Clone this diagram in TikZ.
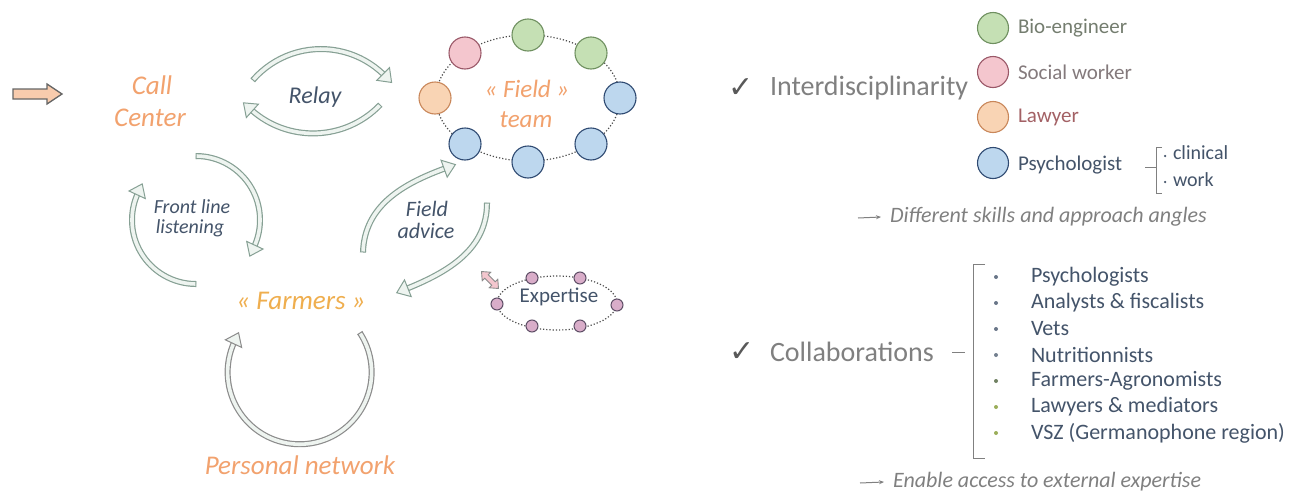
\documentclass[tikz,border=0pt]{standalone}
\usepackage{fontspec}
\setmainfont{Carlito}
\newfontfamily\symfont{DejaVu Sans}
\usetikzlibrary{decorations.markings,arrows.meta}
\definecolor{arrgray}{HTML}{8C8C8C}
\definecolor{arrgreen}{HTML}{86A094}
\definecolor{arrfill}{HTML}{EEF4F0}
\definecolor{arrorange}{HTML}{F8CBAD}
\definecolor{txtorange}{HTML}{F2A26E}
\definecolor{farmorange}{HTML}{EFAE4E}
\definecolor{navy}{HTML}{44546A}
\definecolor{graytxt}{HTML}{808080}
\definecolor{grnfill}{HTML}{C5E0B4}
\definecolor{grndraw}{HTML}{6F9060}
\definecolor{pnkfill}{HTML}{F4C6CE}
\definecolor{pnkdraw}{HTML}{9A5868}
\definecolor{orgfill}{HTML}{F9D4B4}
\definecolor{orgdraw}{HTML}{C9875A}
\definecolor{blufill}{HTML}{BDD7EE}
\definecolor{bludraw}{HTML}{2F4A72}
\definecolor{expfill}{HTML}{D9ADC9}
\definecolor{expdraw}{HTML}{5E4E66}
\definecolor{olive}{HTML}{9BAE5A}
\tikzset{
  blk/.style={draw=#1, line width=6pt,
    postaction={draw=arrfill, line width=3.6pt},
    postaction={decorate, decoration={markings,
      mark=at position 0.0001 with {\draw[draw=#1, line width=1pt] (0,3) -- (0,-3);},
      mark=at position 0.9999 with {\filldraw[draw=#1, fill=arrfill, line width=1pt] (10,0) -- (-2,9) -- (-2,-9) -- cycle;}}}},
  orng/.style={text=txtorange, font=\fontsize{27}{30}\selectfont\itshape},
  navit/.style={text=navy, font=\fontsize{#1}{#1}\selectfont\itshape},
  tc/.style={circle, minimum size=32pt, line width=1.1pt},
  ec/.style={circle, minimum size=12pt, line width=1pt, fill=expfill, draw=expdraw},
  lc/.style={circle, minimum size=31pt, line width=1.1pt},
  leglbl/.style={anchor=west, font=\fontsize{21}{21}\selectfont},
  item/.style={anchor=west, text=navy, font=\fontsize{22}{22}\selectfont},
  bul/.style={circle, minimum size=4pt, fill=#1},
  bigtxt/.style={anchor=west, text=graytxt, font=\fontsize{28}{28}\selectfont},
  chk/.style={text=black!65, font=\symfont\fontsize{30}{30}\selectfont},
  concl/.style={anchor=west, text=graytxt, font=\fontsize{22}{22}\selectfont\itshape},
  thinarr/.style={draw=graytxt, line width=1pt, -{Stealth[length=5pt,width=4pt]}},
  brk/.style={draw=graytxt, line width=1pt},
}
\begin{document}
\begin{tikzpicture}[x=1pt,y=1pt, every node/.style={inner sep=0pt, outer sep=0pt}]
\useasboundingbox (0,0) rectangle (1293,-498);
\fill[white] (0,0) rectangle (1293,-498);

% entry arrow
\filldraw[draw=black!60, fill=arrorange, line width=1.3pt]
  (13,-89) -- (47,-89) -- (47,-84) -- (62,-94) -- (47,-104) -- (47,-99) -- (13,-99) -- cycle;

% Call center
\node[orng] (call) at (152,-85) {Call};
\node[orng] (center) at (150,-118) {Center};

% Relay
\node[navit=24] (relay) at (315,-97) {Relay};
\coordinate (r1s) at (253,-80);
\coordinate (r2s) at (380,-105);
\draw[blk=arrgreen] (r1s) arc[start angle=139, end angle=45, radius=90];
\draw[blk=arrgreen] (r2s) arc[start angle=-44, end angle=-132, radius=93];

% Field team
\draw[dotted, line width=1.2pt, draw=black!70] (528,-98) ellipse [x radius=92, y radius=63];
\node[tc, fill=blufill, draw=bludraw] (c1) at (620,-98) {};
\node[tc, fill=grnfill, draw=grndraw] (c2) at (591,-53) {};
\node[tc, fill=grnfill, draw=grndraw] (c3) at (528,-35) {};
\node[tc, fill=pnkfill, draw=pnkdraw] (c4) at (465,-53) {};
\node[tc, fill=orgfill, draw=orgdraw] (c5) at (435,-98) {};
\node[tc, fill=blufill, draw=bludraw] (c6) at (465,-144) {};
\node[tc, fill=blufill, draw=bludraw] (c7) at (528,-162) {};
\node[tc, fill=blufill, draw=bludraw] (c8) at (591,-144) {};
\node[orng, font=\fontsize{25}{28}\selectfont\itshape] (field) at (527,-89) {« Field »};
\node[orng, font=\fontsize{25}{28}\selectfont\itshape] (team) at (526,-120) {team};

% Front line listening
\node[navit=20] (front) at (192,-207) {Front line};
\node[navit=20] (listen) at (190,-228) {listening};
\coordinate (f1s) at (196,-284);
\coordinate (f2s) at (196,-156);
\draw[blk=arrgreen] (f1s) arc[start angle=270, end angle=155, radius=64];
\draw[blk=arrgreen] (f2s) arc[start angle=90, end angle=-25, radius=64];

% Field advice
\node[navit=22] (fadv1) at (427,-209) {Field};
\node[navit=22] (fadv2) at (426,-231) {advice};
\coordinate (a1s) at (363,-252);
\coordinate (a1e) at (446,-168);
\coordinate (a2s) at (487,-203);
\coordinate (a2e) at (406,-289);
\draw[blk=arrgreen] (a1s) to[out=88, in=200] (a1e);
\draw[blk=arrgreen] (a2s) to[out=-90, in=22] (a2e);

% Farmers
\node[orng, text=farmorange] (farmers) at (301,-301) {« Farmers »};

% Personal network loop
\coordinate (p1s) at (360,-333);
\draw[blk=arrgray] (p1s) arc[start angle=33, end angle=-205, radius=72];
\node[orng] (pers) at (300,-465) {Personal network};

% Expertise
\draw[dotted, line width=1.2pt, draw=black!70] (557,-303) ellipse [x radius=60, y radius=27];
\node[ec] (e1) at (532,-278) {};
\node[ec] (e2) at (580,-278) {};
\node[ec] (e3) at (497,-304) {};
\node[ec] (e4) at (617,-305) {};
\node[ec] (e5) at (532,-326) {};
\node[ec] (e6) at (580,-326) {};
\node[text=navy, font=\fontsize{21}{21}\selectfont] (exp) at (559,-297) {Expertise};
\begin{scope}[shift={(490,-280)}, rotate=-45]
\filldraw[draw=arrgray, fill=pnkfill, line width=0.9pt]
  (-12,0) -- (-5,6) -- (-5,2.5) -- (5,2.5) -- (5,6) -- (12,0) -- (5,-6) -- (5,-2.5) -- (-5,-2.5) -- (-5,-6) -- cycle;
\end{scope}

% Interdisciplinarity
\node[chk] (chk1) at (741,-88) {✓};
\node[bigtxt] (inter) at (770,-88) {Interdisciplinarity};
\node[lc, fill=grnfill, draw=grndraw] (lg1) at (993,-28) {};
\node[lc, fill=pnkfill, draw=pnkdraw] (lg2) at (993,-72) {};
\node[lc, fill=orgfill, draw=orgdraw] (lg3) at (993,-117) {};
\node[lc, fill=blufill, draw=bludraw] (lg4) at (993,-163) {};
\node[leglbl, text=black!45!grnfill!60!graytxt] (l1) at (1018,-28) {Bio-engineer};
\node[leglbl, text=graytxt!85!pnkdraw] (l2) at (1018,-72) {Social worker};
\node[leglbl, text=pnkdraw!80!orgdraw] (l3) at (1018,-117) {Lawyer};
\node[leglbl, text=navy] (l4) at (1018,-165) {Psychologist};
\coordinate (pd1) at (1145,-167);
\coordinate (pb) at (1156,-167);
\draw[brk] (pd1) -- (pb);
\draw[brk] (1162,-147) -- (1156,-147) -- (1156,-193) -- (1162,-193);
\node[circle, fill=navy, minimum size=2.5pt] (dt1) at (1165,-156) {};
\node[circle, fill=navy, minimum size=2.5pt] (dt2) at (1165,-182) {};
\node[item, font=\fontsize{20}{20}\selectfont] (clin) at (1173,-153) {clinical};
\node[item, font=\fontsize{20}{20}\selectfont] (work) at (1173,-180) {work};
\node[concl] (diff) at (890,-217) {Different skills and approach angles};
\coordinate (da) at (858,-218);
\draw[thinarr] (da) -- ([xshift=-9pt]diff.west);

% Collaborations
\node[chk] (chk2) at (742,-352) {✓};
\node[bigtxt] (coll) at (770,-352) {Collaborations};
\coordinate (cd1) at (952,-352);
\coordinate (cd2) at (965,-352);
\draw[brk] (cd1) -- (cd2);
\draw[brk] (985,-264) -- (973,-264) -- (973,-458) -- (985,-458);
\node[bul=navy!80] (b1) at (996,-277) {};
\node[bul=navy!80] (b2) at (996,-303) {};
\node[bul=navy!80] (b3) at (996,-329) {};
\node[bul=navy!75] (b4) at (996,-355) {};
\node[bul=navy!50!olive] (b5) at (996,-381) {};
\node[bul=olive] (b6) at (996,-407) {};
\node[bul=olive] (b7) at (996,-433) {};
\node[item] (i1) at (1031,-277) {Psychologists};
\node[item] (i2) at (1031,-303) {Analysts \& fiscalists};
\node[item] (i3) at (1031,-329) {Vets};
\node[item] (i4) at (1031,-355) {Nutritionnists};
\node[item] (i5) at (1031,-381) {Farmers-Agronomists};
\node[item] (i6) at (1031,-407) {Lawyers \& mediators};
\node[item] (i7) at (1031,-433) {VSZ (Germanophone region)};
\node[concl] (enab) at (893,-482) {Enable access to external expertise};
\coordinate (ea) at (860,-483);
\draw[thinarr] (ea) -- ([xshift=-9pt]enab.west);
\end{tikzpicture}
\end{document}
